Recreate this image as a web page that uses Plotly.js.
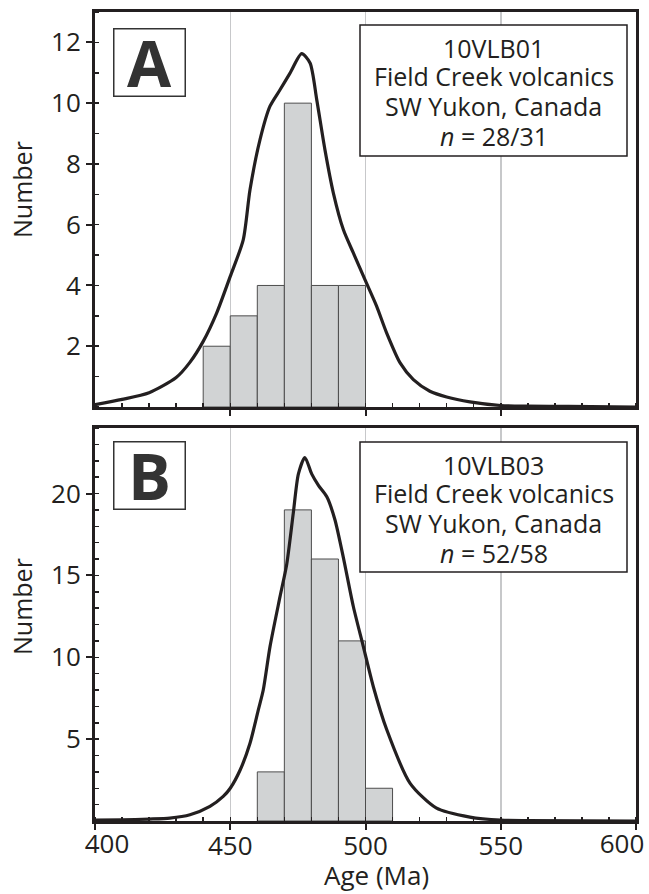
<!DOCTYPE html>
<html>
<head>
<meta charset="utf-8">
<script src="https://cdn.plot.ly/plotly-3.0.1.min.js"></script>
<style>html,body{margin:0;padding:0;background:#fff;}#chart{width:649px;height:894px;}</style>
</head>
<body>
<div id="chart"></div>
<script>
// ---- Data ----
// Panel A: histogram (10 Ma bins, given by bin start)
const binStartA = [440, 450, 460, 470, 480, 490];
const countsA   = [2, 3, 4, 10, 4, 4];
// Panel A: probability density curve
const curveXA = [400, 410, 420, 430, 435, 440, 445, 450, 454.8, 457.3, 461, 464.7, 468.4, 472.1, 476.4, 479.5, 482, 485, 488.1, 491.8, 495.5, 499.8, 504.1, 507.8, 512.8, 517.7, 523.8, 530, 538.6, 550, 560, 575, 600];
const curveYA = [0.08, 0.25, 0.47, 0.97, 1.46, 2.16, 3.1, 4.3, 5.5, 7.15, 8.8, 9.9, 10.44, 10.99, 11.63, 11.32, 10.1, 8.47, 7.05, 5.84, 5.07, 4.19, 3.32, 2.44, 1.45, 0.9, 0.52, 0.33, 0.17, 0.05, 0.03, 0.02, 0.0];

// Panel B: histogram
const binStartB = [460, 470, 480, 490, 500];
const countsB   = [3, 19, 16, 11, 2];
// Panel B: probability density curve
const curveXB = [400, 410, 420, 427.7, 435.1, 442.5, 447.4, 450, 453.7, 457.3, 460.4, 462.2, 464.7, 468.4, 470.9, 473.3, 475.2, 477.6, 480.1, 482.6, 485.7, 488.7, 491.8, 495.5, 499.2, 502.9, 507.8, 516.5, 526.1, 538.6, 550, 560, 600];
const curveYB = [0.05, 0.07, 0.12, 0.18, 0.38, 0.89, 1.5, 2.0, 3.13, 4.75, 6.8, 8.0, 10.65, 13.7, 15.7, 18.8, 21.2, 22.2, 21.2, 20.5, 19.8, 18.4, 16.1, 13.1, 10.65, 8.2, 5.6, 2.3, 0.8, 0.24, 0.05, 0.02, 0.0];

// Tick labels
const xTickVals = [400, 450, 500, 550, 600];
const xTickText = ['400', '450', '500', '550', '600'];
const yTickValsA = [2, 4, 6, 8, 10, 12];
const yTickValsB = [5, 10, 15, 20];

const panelLabels = ['A', 'B'];
const infoA = ['10VLB01', 'Field Creek volcanics', 'SW Yukon, Canada', '<i>n</i> = 28/31'];
const infoB = ['10VLB03', 'Field Creek volcanics', 'SW Yukon, Canada', '<i>n</i> = 52/58'];

// ---- Styling / layout ----
const INK = '#231f20';
const FONT = '"Open Sans", "Noto Sans", sans-serif';
const barStyle = {color: '#d1d3d4', line: {color: '#4d4d4d', width: 1}};
const W = 649, H = 894, ML = 95, MR = 13, MT = 12, MB = 73;
const PW = W - ML - MR;
const panelA = {top: 12, bottom: 407};
const panelB = {top: 428, bottom: 821};
const PH = H - MT - MB;
const domA = [(H - MB - panelA.bottom) / PH, (H - MB - panelA.top) / PH];
const domB = [(H - MB - panelB.bottom) / PH, (H - MB - panelB.top) / PH];
const fx = px => (px - ML) / PW;
const fy = (py, p) => (p.bottom - py) / (p.bottom - p.top);
const lastI = xTickVals.length - 1;

const traces = [
  {type: 'bar', x: binStartA, y: countsA, width: 10, offset: 0, marker: barStyle, xaxis: 'x', yaxis: 'y'},
  {type: 'scatter', mode: 'lines', x: curveXA, y: curveYA, line: {color: INK, width: 3.2, shape: 'spline', smoothing: 0.7}, xaxis: 'x', yaxis: 'y'},
  {type: 'bar', x: binStartB, y: countsB, width: 10, offset: 0, marker: barStyle, xaxis: 'x2', yaxis: 'y2'},
  {type: 'scatter', mode: 'lines', x: curveXB, y: curveYB, line: {color: INK, width: 3.2, shape: 'spline', smoothing: 0.7}, xaxis: 'x2', yaxis: 'y2'},
  // empty traces so the end-label overlay axes are drawn
  {type: 'scatter', mode: 'lines', x: [], y: [], xaxis: 'x3', yaxis: 'y2'},
  {type: 'scatter', mode: 'lines', x: [], y: [], xaxis: 'x4', yaxis: 'y2'}
];

function xAxis(anchor, showLabels) {
  return {
    anchor: anchor, domain: [0, 1], range: [400, 600],
    showline: true, mirror: true, linewidth: 3, linecolor: INK,
    tickmode: 'array', tickvals: xTickVals,
    ticktext: xTickText.map((t, i) => (i === 0 || i === lastI) ? '' : t),
    ticks: 'outside', ticklen: 6, tickwidth: 2, tickcolor: INK,
    showticklabels: showLabels, ticklabeloverflow: 'allow', ticklabelstandoff: -6,
    tickfont: {family: FONT, size: 26, color: INK},
    showgrid: true, gridcolor: '#c7c8ca', gridwidth: 1.5,
    zeroline: false, fixedrange: true,
    minor: {dtick: 10, tick0: 400, ticks: 'inside', ticklen: 4, tickwidth: 1.5, tickcolor: INK, showgrid: false}
  };
}
// overlay axis carrying only one end label, nudged inward like the reference
function endLabelAxis(i, shift) {
  return {
    overlaying: 'x2', anchor: 'y2', side: 'bottom', range: [400, 600],
    showline: false, showgrid: false, zeroline: false, fixedrange: true,
    tickmode: 'array', tickvals: [xTickVals[i]], ticktext: [xTickText[i]],
    ticks: 'outside', ticklen: 6, tickwidth: 2, tickcolor: 'rgba(0,0,0,0)',
    ticklabeloverflow: 'allow', ticklabelstandoff: -6, ticklabelshift: shift,
    tickfont: {family: FONT, size: 26, color: INK}
  };
}
function yAxis(anchor, domain, range, tickvals) {
  return {
    anchor: anchor, domain: domain, range: range,
    showline: true, mirror: true, linewidth: 3, linecolor: INK,
    tickmode: 'array', tickvals: tickvals,
    ticks: 'outside', ticklen: 6, tickwidth: 2, tickcolor: INK,
    tickfont: {family: FONT, size: 26, color: INK},
    showgrid: false, zeroline: false, fixedrange: true,
    minor: {dtick: 1, tick0: 0, ticks: 'inside', ticklen: 4, tickwidth: 1.5, tickcolor: INK, showgrid: false}
  };
}

function letterBox(label, ax, p, cy) {
  return {
    xref: 'x' + ax + ' domain', yref: 'y' + ax + ' domain', x: fx(149), y: fy(cy, p),
    xanchor: 'center', yanchor: 'middle', showarrow: false,
    text: '<b>' + label + '</b>',
    font: {family: FONT, size: 64, color: '#333333'},
    bordercolor: '#333333', borderwidth: 1.5, borderpad: 0, bgcolor: '#ffffff',
    width: 70, height: 66
  };
}
function infoShape(ax, p, top, bottom) {
  return {
    type: 'rect', xref: 'x' + ax + ' domain', yref: 'y' + ax + ' domain',
    x0: fx(360), x1: fx(627), y0: fy(bottom, p), y1: fy(top, p),
    line: {color: INK, width: 1.5}, fillcolor: '#ffffff', layer: 'above'
  };
}
function infoLines(lines, ax, p, top) {
  const offs = [22, 50.5, 80, 110];
  return lines.map((t, i) => ({
    xref: 'x' + ax + ' domain', yref: 'y' + ax + ' domain', x: fx(493.5), y: fy(top + offs[i], p),
    xanchor: 'center', yanchor: 'middle', showarrow: false, text: t,
    font: {family: FONT, size: 25, color: INK}, height: 27, borderpad: 0
  }));
}

const axA = '', axB = '2';
const layout = {
  width: W, height: H,
  margin: {l: ML, r: MR, t: MT, b: MB},
  paper_bgcolor: '#ffffff', plot_bgcolor: '#ffffff',
  showlegend: false, bargap: 0,
  font: {family: FONT, color: INK},
  xaxis: xAxis('y', false),
  yaxis: yAxis('x', domA, [0, 13], yTickValsA),
  xaxis2: xAxis('y2', true),
  yaxis2: yAxis('x2', domB, [0, 24], yTickValsB),
  xaxis3: endLabelAxis(0, 12),
  xaxis4: endLabelAxis(lastI, -14),
  shapes: [infoShape(axA, panelA, 25, 156), infoShape(axB, panelB, 442, 572)],
  annotations: [
    letterBox(panelLabels[0], axA, panelA, 62.5),
    letterBox(panelLabels[1], axB, panelB, 475),
    ...infoLines(infoA, axA, panelA, 25),
    ...infoLines(infoB, axB, panelB, 442),
    {xref: 'paper', yref: 'paper', x: fx(22), y: (H - MB - 190) / PH, xanchor: 'center', yanchor: 'middle', showarrow: false,
     text: 'Number', textangle: -90, font: {family: FONT, size: 25, color: INK}},
    {xref: 'paper', yref: 'paper', x: fx(22), y: (H - MB - 607) / PH, xanchor: 'center', yanchor: 'middle', showarrow: false,
     text: 'Number', textangle: -90, font: {family: FONT, size: 25, color: INK}},
    {xref: 'paper', yref: 'paper', x: fx(376.7), y: (H - MB - 875) / PH, xanchor: 'center', yanchor: 'middle', showarrow: false,
     text: 'Age (Ma)', font: {family: FONT, size: 26, color: INK}}
  ]
};

Plotly.newPlot('chart', traces, layout, {staticPlot: true, displayModeBar: false});
</script>
</body>
</html>
